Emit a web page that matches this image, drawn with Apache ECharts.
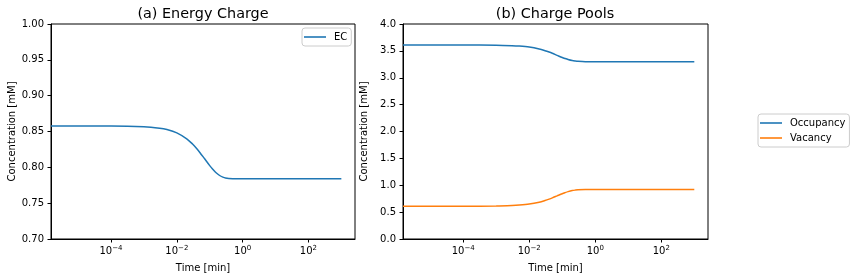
<!DOCTYPE html>
<html><head><meta charset="utf-8">
<script src="https://cdn.jsdelivr.net/npm/echarts@6/dist/echarts.min.js"></script>
<style>html,body{margin:0;padding:0;background:#fff}#c{width:856px;height:280px}</style>
</head><body><div id="c"></div>
<script>
// time points [min]
const time = [1.5e-6, 1e-5, 1e-4, 1e-3, 3e-3, 5e-3, 0.01, 0.02, 0.03, 0.04, 0.05, 0.07, 0.1, 0.12, 0.15, 0.2, 0.25, 0.3, 0.5, 1, 10, 100, 1000];
const energyCharge = [0.8577, 0.8577, 0.8577, 0.8567, 0.8547, 0.8528, 0.8481, 0.8398, 0.8326, 0.8263, 0.8208, 0.8119, 0.8024, 0.7979, 0.7932, 0.7886, 0.7863, 0.7851, 0.7842, 0.784, 0.784, 0.784, 0.784];
const occupancy = [3.61, 3.61, 3.61, 3.606, 3.597, 3.589, 3.570, 3.535, 3.504, 3.478, 3.455, 3.417, 3.377, 3.359, 3.339, 3.319, 3.310, 3.305, 3.300, 3.30, 3.30, 3.30, 3.30];
const vacancy = [0.61, 0.61, 0.61, 0.614, 0.623, 0.631, 0.650, 0.685, 0.716, 0.742, 0.765, 0.803, 0.843, 0.861, 0.881, 0.901, 0.910, 0.915, 0.920, 0.92, 0.92, 0.92, 0.92];
const xTicks = [1e-4, 1e-2, 1, 100];
const titles = ['(a) Energy Charge', '(b) Charge Pools'];

const FONT = 'DejaVu Sans';
const pair = (ys) => time.map((t, i) => [t, ys[i]]);
function expLabel(v) {
  const e = Math.round(Math.log10(v));
  return '{b|10}{s|' + (e < 0 ? '\u2212' + (-e) : e) + '}';
}
const xAxisBase = (gi) => ({
  type: 'log', logBase: 10, gridIndex: gi, min: 1.5e-6, max: 2600,
  name: 'Time [min]', nameLocation: 'middle', nameGap: 24,
  nameTextStyle: {fontFamily: FONT, fontSize: 10, color: '#000'},
  axisLine: {show: true, lineStyle: {color: '#000', width: 1}},
  axisTick: {show: true, length: 3.5, lineStyle: {color: '#000'}, customValues: xTicks},
  axisLabel: {customValues: xTicks, margin: 6, formatter: expLabel,
    rich: {b: {fontFamily: FONT, fontSize: 10, color: '#000'},
           s: {fontFamily: FONT, fontSize: 7, color: '#000', padding: [0, 0, 6, 0]}}},
  splitLine: {show: false}, minorTick: {show: false}
});
const yAxisBase = (gi, min, max, interval, dec) => ({
  type: 'value', gridIndex: gi, min, max, interval,
  name: 'Concentration [mM]', nameLocation: 'middle', nameGap: 34,
  nameTextStyle: {fontFamily: FONT, fontSize: 10, color: '#000'},
  axisLine: {show: true, lineStyle: {color: '#000', width: 1}},
  axisTick: {show: true, length: 3.5, lineStyle: {color: '#000'}},
  axisLabel: {fontFamily: FONT, fontSize: 10, color: '#000', margin: 7,
    formatter: (v) => v.toFixed(dec)},
  splitLine: {show: false}
});
const lineSeries = (name, gi, data, color) => ({
  name, type: 'line', xAxisIndex: gi, yAxisIndex: gi, data: pair(data),
  smooth: 0.3, symbol: 'none', showSymbol: false, lineStyle: {color, width: 1.5}, itemStyle: {color},
  animation: false
});
const legendBase = {
  icon: 'rect',
  textStyle: {fontFamily: FONT, fontSize: 10, color: '#000', padding: [0, 0, 0, 3]},
  itemWidth: 22, itemHeight: 1.6, borderColor: '#cccccc', borderWidth: 1, borderRadius: 3,
  backgroundColor: '#fff'
};
const chart = echarts.init(document.getElementById('c'), null, {renderer: 'canvas'});
chart.setOption({
  animation: false,
  title: [
    {text: titles[0], left: 198, top: 2, textAlign: 'center',
     textStyle: {fontFamily: FONT, fontSize: 14.4, fontWeight: 'normal', color: '#000'}},
    {text: titles[1], left: 550, top: 2, textAlign: 'center',
     textStyle: {fontFamily: FONT, fontSize: 14.4, fontWeight: 'normal', color: '#000'}}
  ],
  grid: [
    {left: 51, top: 24, width: 304, height: 215, show: true, borderColor: '#000', borderWidth: 1, backgroundColor: 'transparent'},
    {left: 403, top: 24, width: 305, height: 215, show: true, borderColor: '#000', borderWidth: 1, backgroundColor: 'transparent'}
  ],
  xAxis: [xAxisBase(0), xAxisBase(1)],
  yAxis: [yAxisBase(0, 0.7, 1.0, 0.05, 2), yAxisBase(1, 0, 4, 0.5, 1)],
  legend: [
    Object.assign({}, legendBase, {data: ['EC'], left: 302, top: 28, padding: [4, 4, 4, 2]}),
    Object.assign({}, legendBase, {data: ['Occupancy', 'Vacancy'], orient: 'vertical', left: 758, top: 114, itemGap: 5, padding: [4, 4, 4, 2]})
  ],
  series: [
    lineSeries('EC', 0, energyCharge, '#1f77b4'),
    lineSeries('Occupancy', 1, occupancy, '#1f77b4'),
    lineSeries('Vacancy', 1, vacancy, '#ff7f0e')
  ]
});
</script></body></html>
